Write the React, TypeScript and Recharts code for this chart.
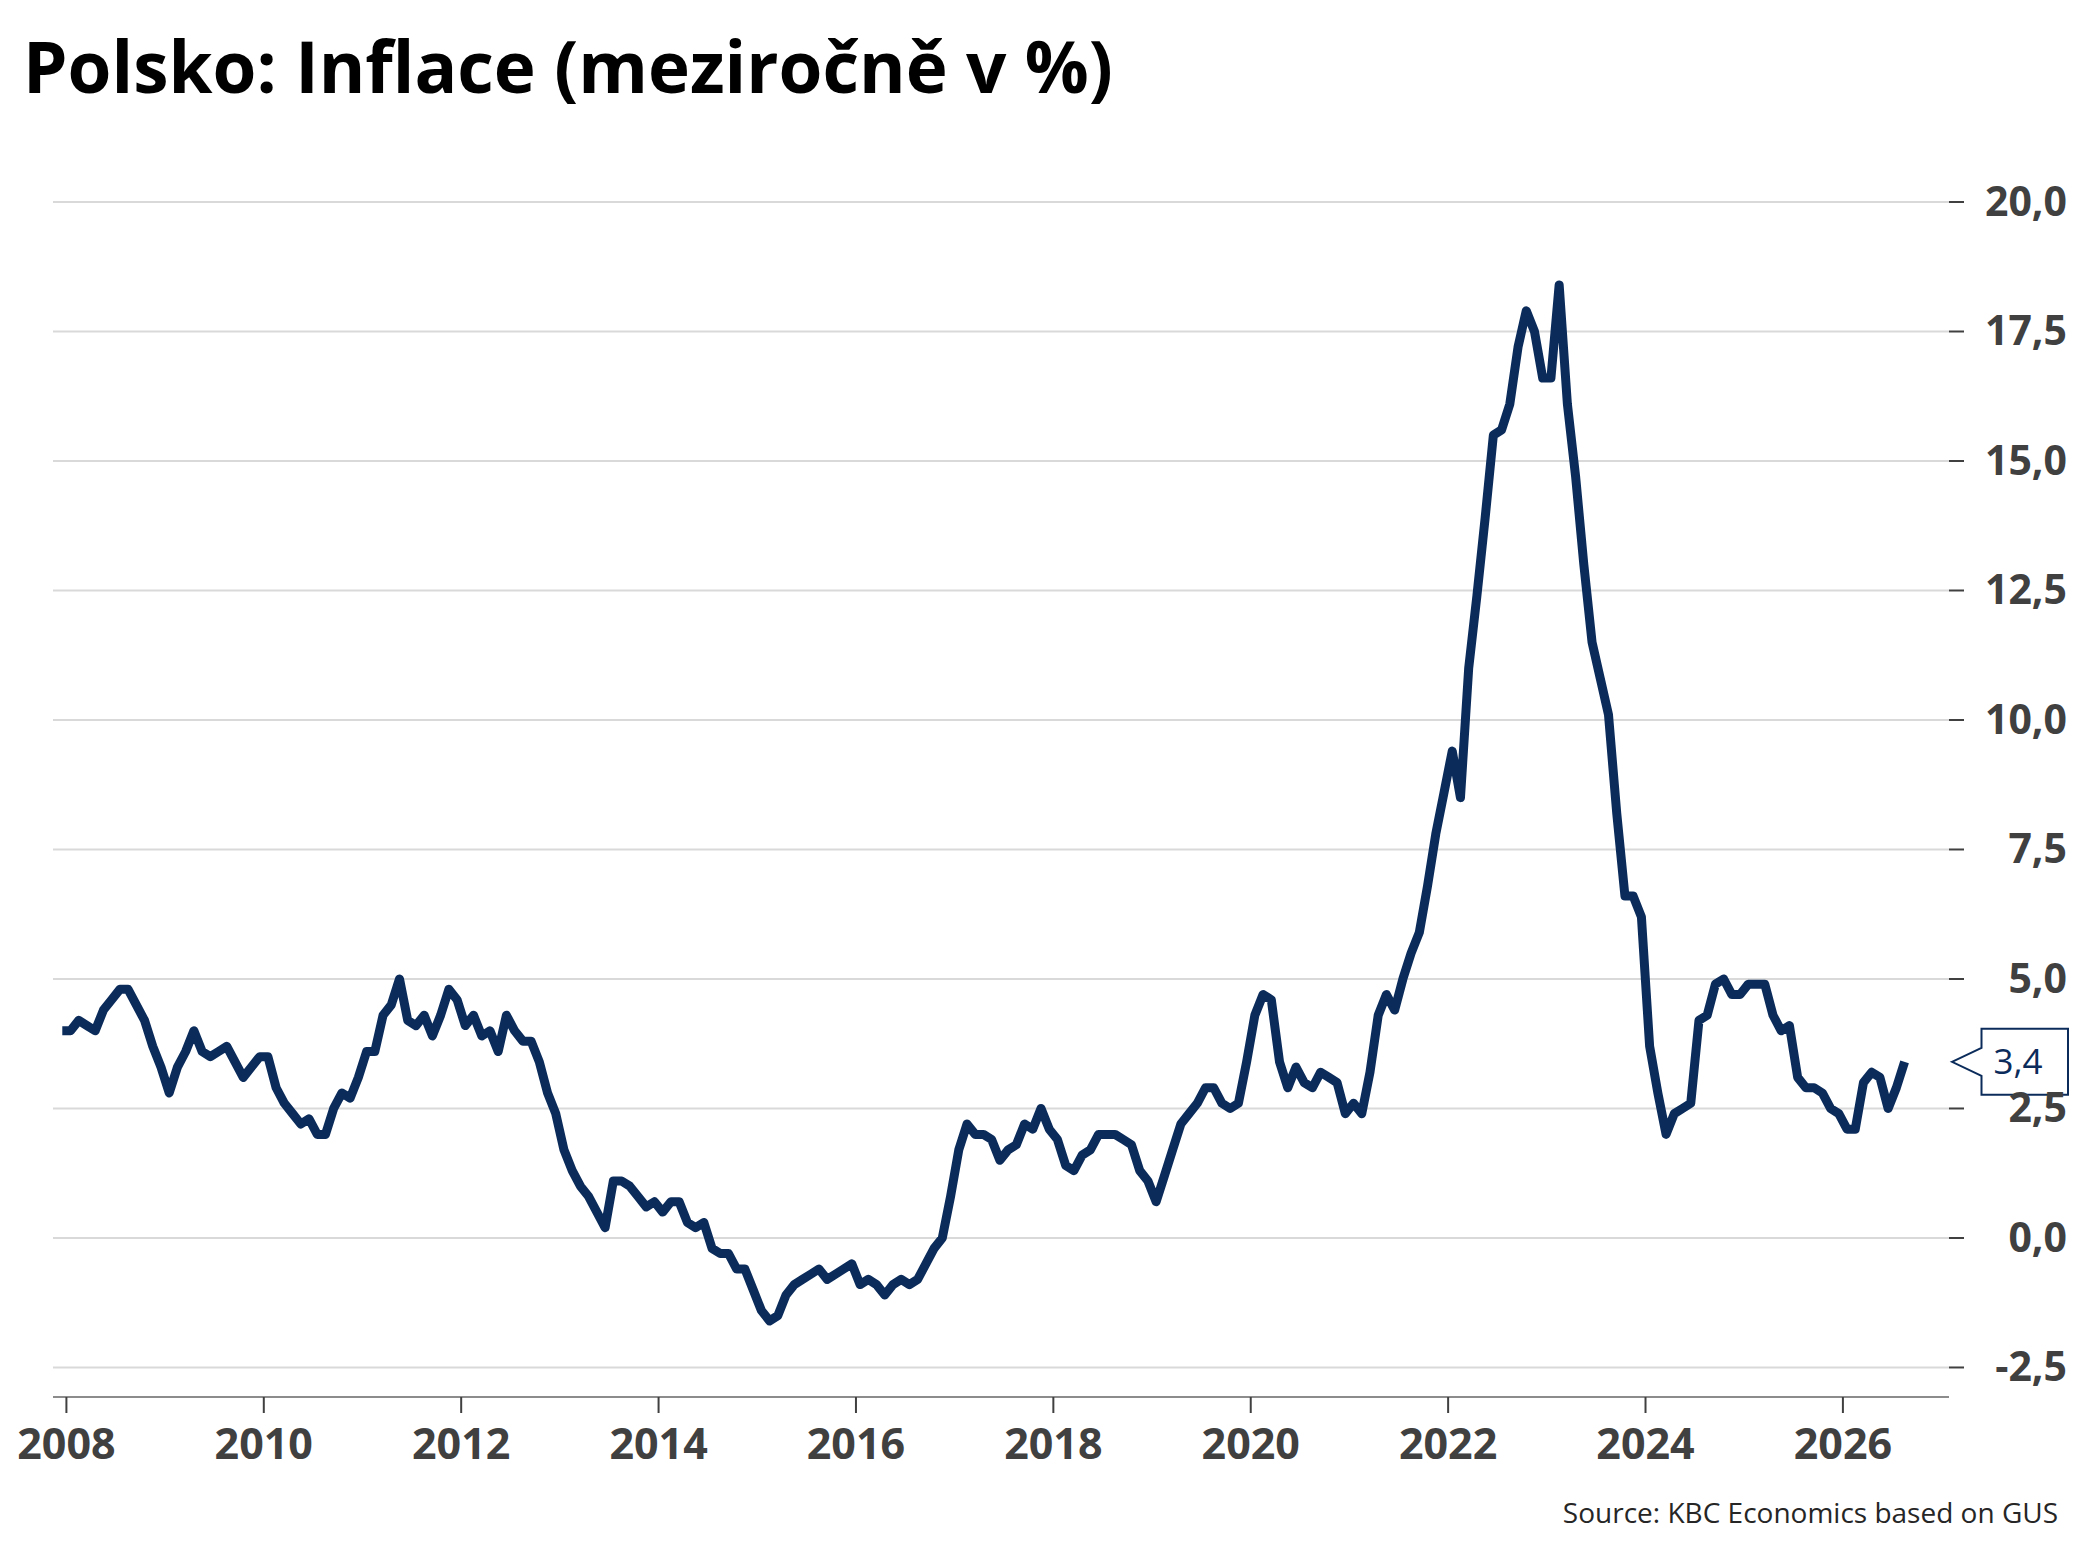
import React from 'react';
import { LineChart, Line, XAxis, YAxis, CartesianGrid, ReferenceDot } from 'recharts';

const TITLE = 'Polsko: Inflace (meziročně v %)';
const SOURCE = 'Source: KBC Economics based on GUS';

// Monthly CPI y/y in %, first value is December 2007
const dec2007 = [4.0];
const y2008 = [4.0, 4.2, 4.1, 4.0, 4.4, 4.6, 4.8, 4.8, 4.5, 4.2, 3.7, 3.3];
const y2009 = [2.8, 3.3, 3.6, 4.0, 3.6, 3.5, 3.6, 3.7, 3.4, 3.1, 3.3, 3.5];
const y2010 = [3.5, 2.9, 2.6, 2.4, 2.2, 2.3, 2.0, 2.0, 2.5, 2.8, 2.7, 3.1];
const y2011 = [3.6, 3.6, 4.3, 4.5, 5.0, 4.2, 4.1, 4.3, 3.9, 4.3, 4.8, 4.6];
const y2012 = [4.1, 4.3, 3.9, 4.0, 3.6, 4.3, 4.0, 3.8, 3.8, 3.4, 2.8, 2.4];
const y2013 = [1.7, 1.3, 1.0, 0.8, 0.5, 0.2, 1.1, 1.1, 1.0, 0.8, 0.6, 0.7];
const y2014 = [0.5, 0.7, 0.7, 0.3, 0.2, 0.3, -0.2, -0.3, -0.3, -0.6, -0.6, -1.0];
const y2015 = [-1.4, -1.6, -1.5, -1.1, -0.9, -0.8, -0.7, -0.6, -0.8, -0.7, -0.6, -0.5];
const y2016 = [-0.9, -0.8, -0.9, -1.1, -0.9, -0.8, -0.9, -0.8, -0.5, -0.2, 0.0, 0.8];
const y2017 = [1.7, 2.2, 2.0, 2.0, 1.9, 1.5, 1.7, 1.8, 2.2, 2.1, 2.5, 2.1];
const y2018 = [1.9, 1.4, 1.3, 1.6, 1.7, 2.0, 2.0, 2.0, 1.9, 1.8, 1.3, 1.1];
const y2019 = [0.7, 1.2, 1.7, 2.2, 2.4, 2.6, 2.9, 2.9, 2.6, 2.5, 2.6, 3.4];
const y2020 = [4.3, 4.7, 4.6, 3.4, 2.9, 3.3, 3.0, 2.9, 3.2, 3.1, 3.0, 2.4];
const y2021 = [2.6, 2.4, 3.2, 4.3, 4.7, 4.4, 5.0, 5.5, 5.9, 6.8, 7.8, 8.6];
const y2022 = [9.4, 8.5, 11.0, 12.4, 13.9, 15.5, 15.6, 16.1, 17.2, 17.9, 17.5, 16.6];
const y2023 = [16.6, 18.4, 16.1, 14.7, 13.0, 11.5, 10.8, 10.1, 8.2, 6.6, 6.6, 6.2];
const y2024 = [3.7, 2.8, 2.0, 2.4, 2.5, 2.6, 4.2, 4.3, 4.9, 5.0, 4.7, 4.7];
const y2025 = [4.9, 4.9, 4.9, 4.3, 4.0, 4.1, 3.1, 2.9, 2.9, 2.8, 2.5, 2.4];
const y2026 = [2.1, 2.1, 3.0, 3.2, 3.1, 2.5, 2.9, 3.4];

const yearLabels = ['2008', '2010', '2012', '2014', '2016', '2018', '2020', '2022', '2024', '2026'];
const yTicks = [-2.5, 0, 2.5, 5, 7.5, 10, 12.5, 15, 17.5, 20];

const series = [
  ...dec2007, ...y2008, ...y2009, ...y2010, ...y2011, ...y2012, ...y2013, ...y2014,
  ...y2015, ...y2016, ...y2017, ...y2018, ...y2019, ...y2020, ...y2021, ...y2022,
  ...y2023, ...y2024, ...y2025, ...y2026,
];

// x = months since Jan 2008, points placed mid-month
const data = series.map((v, i) => ({ m: i - 1 + 0.5, cpi: v }));
const xTicks = yearLabels.map((y) => (Number(y) - 2008) * 12);
const X_MIN = -1.63;
const X_MAX = 228.9;
const lastValue = series[series.length - 1];

const NAVY = '#0b2c5b';
const LABEL = '#404040';
const FONT = '"Open Sans", "Noto Sans", sans-serif';

const fmt = (v: number) => v.toFixed(1).replace('.', ',');

const XTick = (props: any) => {
  const { x, y, payload } = props;
  return (
    <text x={x} y={y + 46} textAnchor="middle" fill={LABEL} fontSize={43} fontWeight={700} fontFamily={FONT}>
      {String(2008 + payload.value / 12)}
    </text>
  );
};

const YTick = (props: any) => {
  const { x, y, payload } = props;
  return (
    <text x={x + 103} y={y + 14} textAnchor="end" fill={LABEL} fontSize={41} fontWeight={700} fontFamily={FONT}>
      {fmt(payload.value)}
    </text>
  );
};

const Callout = (props: any) => {
  const { cx, cy } = props;
  if (cx == null || cy == null) return null;
  const tip = cx + 3;
  const l = cx + 32.5;
  const r = cx + 119;
  const t = cy - 33;
  const b = cy + 33;
  const pts = [
    [tip, cy], [l, cy - 14], [l, t], [r, t], [r, b], [l, b], [l, cy + 14],
  ].map((p) => p.join(',')).join(' ');
  return (
    <g>
      <polygon points={pts} fill="#ffffff" stroke={NAVY} strokeWidth={2} />
      <text x={cx + 44.5} y={cy + 12} fill={NAVY} fontSize={35} fontFamily={FONT}>
        {fmt(lastValue)}
      </text>
    </g>
  );
};

export default function App() {
  return (
    <div style={{ position: 'absolute', left: 0, top: 0, width: 2093, height: 1568, background: '#ffffff' }}>
      <LineChart
        width={2093}
        height={1568}
        data={data}
        margin={{ top: 202, right: 14, bottom: 71, left: 53 }}
      >
        <CartesianGrid horizontal vertical={false} stroke="#d9d9d9" strokeWidth={2} />
        <XAxis
          type="number"
          dataKey="m"
          domain={[X_MIN, X_MAX]}
          allowDataOverflow
          ticks={xTicks}
          interval={0}
          height={100}
          tickSize={16}
          tickMargin={0}
          axisLine={{ stroke: '#8c8c8c', strokeWidth: 2 }}
          tickLine={{ stroke: LABEL, strokeWidth: 2 }}
          tick={<XTick />}
        />
        <YAxis
          orientation="right"
          type="number"
          domain={[-3.07, 20]}
          allowDataOverflow
          ticks={yTicks}
          interval={0}
          width={130}
          tickSize={15}
          tickMargin={0}
          axisLine={false}
          tickLine={{ stroke: LABEL, strokeWidth: 2 }}
          tick={<YTick />}
        />
        <Line
          type="linear"
          dataKey="cpi"
          stroke={NAVY}
          strokeWidth={9}
          strokeLinejoin="round"
          strokeLinecap="butt"
          dot={false}
          activeDot={false}
          isAnimationActive={false}
        />
        <ReferenceDot x={X_MAX} y={lastValue} r={0} ifOverflow="visible" shape={(p: any) => <Callout {...p} />} />
      </LineChart>
      <svg
        width={2093}
        height={1568}
        style={{ position: 'absolute', left: 0, top: 0, pointerEvents: 'none' }}
      >
        <text x={23} y={93} fontSize={71} fontWeight={700} fill="#000000" fontFamily={FONT}>
          {TITLE}
        </text>
        <text x={2058} y={1523} textAnchor="end" fontSize={28} fill="#262626" fontFamily={FONT}>
          {SOURCE}
        </text>
      </svg>
    </div>
  );
}
